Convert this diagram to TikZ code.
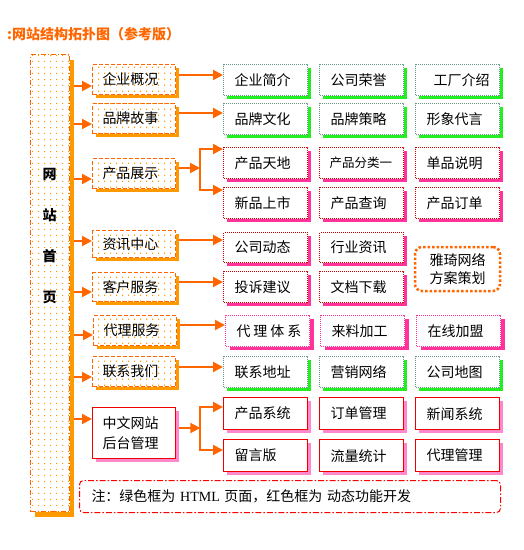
\documentclass[tikz,border=0pt]{standalone}
\usepackage{fontspec}
\newfontfamily\cjk{Noto Sans CJK SC}
\newfontfamily\lser{Liberation Serif}
\usetikzlibrary{arrows.meta,shadows,calc,patterns.meta}
\pgfdeclarepattern{name=odots, type=uncolored, bottom left={\pgfpoint{0pt}{0pt}}, top right={\pgfpoint{6pt}{6pt}}, tile size={\pgfpoint{6pt}{6pt}}, code={\pgfpathrectangle{\pgfpoint{2.5pt}{2.5pt}}{\pgfpoint{1.2pt}{1.2pt}}\pgfusepath{fill}}}
\pgfdeclarelayer{bg}
\pgfsetlayers{bg,main}
\definecolor{org}{HTML}{FF6600}
\definecolor{orgb}{HTML}{FF9900}
\definecolor{gb}{HTML}{669988}
\definecolor{gs}{HTML}{22EE22}
\definecolor{rd}{HTML}{CC0000}
\definecolor{pk}{HTML}{FF3399}
\definecolor{rs}{HTML}{EE0000}
\definecolor{pkl}{HTML}{FF88CC}
\definecolor{nr}{HTML}{FF0000}
\begin{document}
\begin{tikzpicture}[x=1pt,y=-1pt,
  every node/.style={font=\cjk\fontsize{14pt}{17pt}\selectfont, inner sep=0pt},
  box/.style={anchor=north west, minimum width=84pt, minimum height=31pt, inner xsep=11pt, text width=62pt, align=left},
  lone/.style={anchor=north west, minimum width=83pt, minimum height=30pt, inner xsep=10pt, text width=63pt, align=left,
    drop shadow={shadow xshift=3pt,shadow yshift=-3pt,fill=orgb,opacity=1},
    preaction={fill=white}, pattern=odots, pattern color=orgb,
    draw=org, line width=1pt, dash pattern=on 4pt off 2pt},
  lsolid/.style={anchor=north west, minimum width=83pt, minimum height=51pt, inner xsep=10pt, text width=63pt, align=left,
    font=\cjk\fontsize{14pt}{19.5pt}\selectfont,
    fill=white, draw=rs, line width=1.3pt,
    drop shadow={shadow xshift=3pt,shadow yshift=-3pt,fill=pkl,opacity=1}},
  mainbox/.style={anchor=north west, minimum width=39pt, minimum height=457pt,
    drop shadow={shadow xshift=4pt,shadow yshift=-5pt,fill=orgb,opacity=1},
    preaction={fill=white}, pattern=odots, pattern color=orgb,
    draw=org, line width=1pt, dash pattern=on 5pt off 2pt on 1pt off 2pt},
  gbox/.style={box, fill=white, draw=gb, line width=1pt, dash pattern=on 1pt off 1pt,
    drop shadow={shadow xshift=3pt,shadow yshift=-3pt,fill=gs,opacity=1}},
  rbox/.style={box, fill=white, draw=rd, line width=1pt, dash pattern=on 1pt off 1pt,
    drop shadow={shadow xshift=3pt,shadow yshift=-3pt,fill=pk,opacity=1}},
  pbox/.style={box, fill=white, draw=pk, line width=1pt, dash pattern=on 1pt off 1pt,
    drop shadow={shadow xshift=4pt,shadow yshift=-3pt,fill=pk,opacity=1}},
  sbox/.style={box, minimum height=32pt, fill=white, draw=rs, line width=1.3pt,
    drop shadow={shadow xshift=3pt,shadow yshift=-3pt,fill=pkl,opacity=1}},
  ybox/.style={draw=org, line width=2.5pt, dash pattern=on 2.5pt off 2pt, rounded corners=7pt,
    minimum width=85pt, minimum height=44pt, align=center, font=\cjk\fontsize{14pt}{18pt}\selectfont},
  notebox/.style={anchor=north west, draw=nr, line width=1pt, dash pattern=on 6pt off 2pt on 1.5pt off 2pt,
    rounded corners=4pt, minimum width=421pt, minimum height=32pt, inner xsep=12pt, text width=397pt, align=left},
  arr/.style={draw=org, line width=2pt, -{Triangle[length=10pt,width=10pt]}},
  ln/.style={draw=org, line width=2pt}
]
\useasboundingbox (0,0) rectangle (524,550);

% title
\node[anchor=west, text=org, font=\cjk\bfseries\fontsize{14pt}{16pt}\selectfont] (title) at (7,34) {:网站结构拓扑图（参考版）};

% home
\node[mainbox] (home) at (30,54) {};
\node[font=\cjk\bfseries\fontsize{14pt}{41pt}\selectfont, align=center] (hometext) at (49.5,236.5) {网\\站\\首\\页};

% level 1
\node[lone] (l1) at (92,64) {企业概况};
\node[lone] (l2) at (92,103) {品牌故事};
\node[lone] (l3) at (92,158) {产品展示};
\node[lone, minimum height=27pt] (l4) at (92,230) {资讯中心};
\node[lone, minimum height=29pt] (l5) at (92,272) {客户服务};
\node[lone] (l6) at (93,315) {代理服务};
\node[lone] (l7) at (92,356) {联系我们};
\node[lsolid] (l8) at (92,407) {中文网站\\后台管理};

% level 3
\node[gbox] (a1) at (223,64) {企业简介};
\node[gbox] (a2) at (319,64) {公司荣誉};
\node[gbox] (a3) at (415,64) {\hspace*{7pt}工厂介绍};
\node[gbox] (b1) at (223,103) {品牌文化};
\node[gbox] (b2) at (319,103) {品牌策略};
\node[gbox] (b3) at (415,103) {形象代言};
\node[rbox] (c1) at (223,147) {产品天地};
\node[rbox, inner xsep=10pt, text width=64pt] (c2) at (319,147) {{\fontsize{12.5pt}{15pt}\selectfont 产品分类一}};
\node[rbox] (c3) at (415,147) {单品说明};
\node[rbox] (d1) at (223,187) {新品上市};
\node[rbox] (d2) at (319,187) {产品查询};
\node[rbox] (d3) at (415,187) {产品订单};
\node[rbox, minimum height=30pt] (e1) at (223,232) {公司动态};
\node[rbox, minimum height=30pt] (e2) at (319,232) {行业资讯};
\node[ybox] (yq) at (457.5,269) {雅琦网络\\方案策划};
\node[rbox] (f1) at (223,271) {投诉建议};
\node[rbox] (f2) at (319,271) {文档下载};
\node[pbox] (g1) at (225,315) {代\kern3pt 理\kern3pt 体\kern3pt 系};
\node[pbox] (g2) at (320,315) {来料加工};
\node[pbox] (g3) at (416,315) {在线加盟};
\node[gbox] (h1) at (223,356) {联系地址};
\node[gbox] (h2) at (319,356) {营销网络};
\node[gbox] (h3) at (415,356) {公司地图};
\node[sbox] (i1) at (223,397) {产品系统};
\node[sbox] (i2) at (319,397) {订单管理};
\node[sbox] (i3) at (415,397) {新闻系统};
\node[sbox] (k1) at (223,439) {留言版};
\node[sbox] (k2) at (319,439) {流量统计};
\node[sbox] (k3) at (415,439) {代理管理};

% note
\node[notebox] (note) at (79,480) {注：绿色框为 {\lser HTML} 页面，红色框为 动态功能开发};

% connectors
\coordinate (u1) at ($(l1.north west)+(0,22)$);
\coordinate (u2) at ($(l2.north west)+(0,21)$);
\coordinate (u3) at ($(l3.north west)+(0,21)$);
\coordinate (u4) at ($(l4.north west)+(0,11)$);
\coordinate (u5) at ($(l5.north west)+(0,20)$);
\coordinate (u6) at ($(l6.north west)+(0,20)$);
\coordinate (u7) at ($(l7.north west)+(0,21)$);
\coordinate (u8) at ($(l8.north west)+(0,12)$);
\coordinate (v1) at ($(a1.north west)+(0,11)$);
\coordinate (v2) at ($(b1.north west)+(0,10)$);
\coordinate (v4) at ($(e1.north west)+(0,8)$);
\coordinate (v5) at ($(f1.north west)+(0,11)$);
\coordinate (v6) at ($(g1.north west)+(0,10)$);
\coordinate (v7) at ($(h1.north west)+(0,11)$);
\coordinate (j1) at ($(l3.north east)+(24,10)$);
\coordinate (w1) at ($(c1.north west)+(0,2)$);
\coordinate (w2) at ($(d1.north west)+(0,3)$);
\coordinate (j2) at ($(l8.north east)+(24,21)$);
\coordinate (w3) at ($(i1.north west)+(0,10)$);
\coordinate (w4) at ($(k1.north west)+(0,11)$);
\begin{pgfonlayer}{bg}
\fill[white] (0,0) rectangle (524,550);
\foreach \i in {1,...,8}{\draw[arr] (home.east |- u\i) -- (u\i);}
\draw[arr] (l1.east |- v1) -- (v1);
\draw[arr] (l2.east |- v2) -- (v2);
\draw[arr] (l4.east |- v4) -- (v4);
\draw[arr] (l5.east |- v5) -- (v5);
\draw[arr] (l6.east |- v6) -- (v6);
\draw[arr] (l7.east |- v7) -- (v7);
\draw[arr] (l3.east |- j1) -- (j1);
\draw[ln, line cap=rect] (j1 |- w1) -- (j1 |- w2);
\draw[arr] (j1 |- w1) -- (w1);
\draw[arr] (j1 |- w2) -- (w2);
\draw[arr] (l8.east |- j2) -- (j2);
\draw[ln, line cap=rect] (j2 |- w3) -- (j2 |- w4);
\draw[arr] (j2 |- w3) -- (w3);
\draw[arr] (j2 |- w4) -- (w4);
\end{pgfonlayer}
\end{tikzpicture}
\end{document}
